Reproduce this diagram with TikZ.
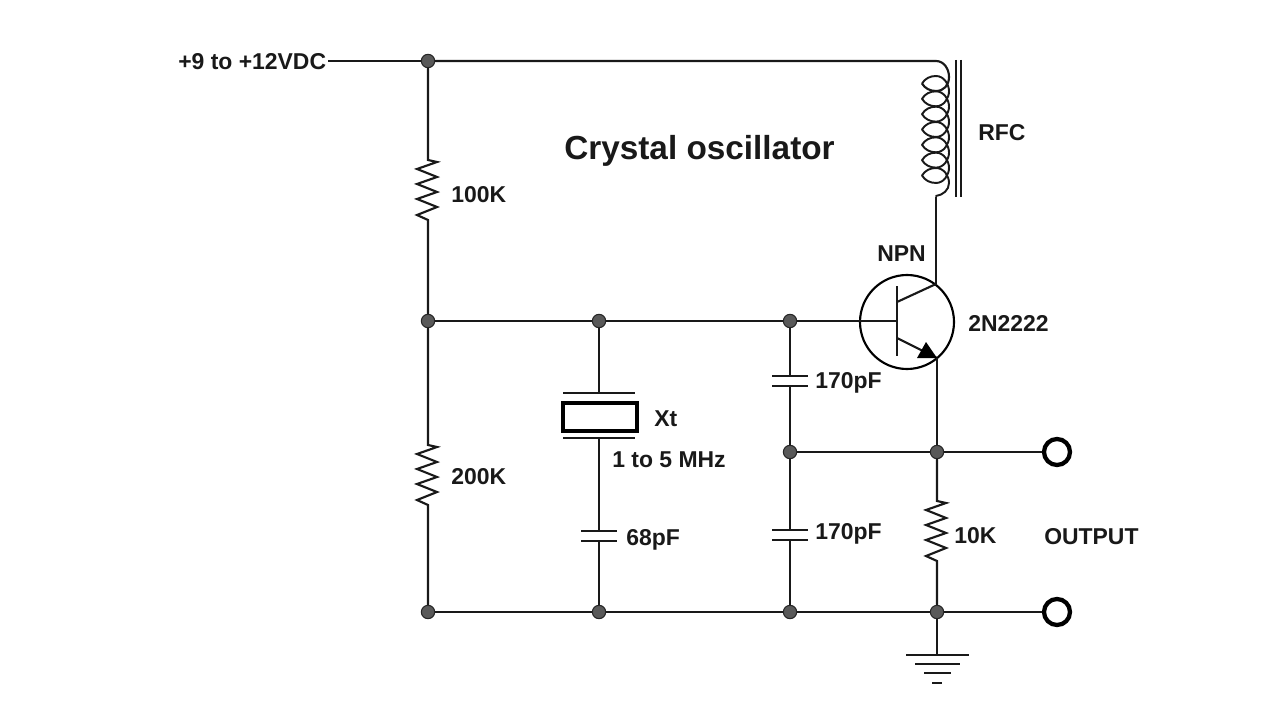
\documentclass[tikz,border=0pt]{standalone}
\usepackage{fontspec}
\setmainfont{Liberation Sans}
\tikzset{
  wire/.style={line width=1.6pt,draw=black!90,line join=miter},
  coil/.style={line width=1.45pt,draw=black!90,line cap=round},
  dotj/.style={circle,fill=black!65,draw=black!85,line width=0.8pt,minimum size=10pt,inner sep=0pt},
  term/.style={circle,fill=white,draw=black,line width=3.2pt,minimum size=19.5pt,inner sep=0pt},
  lab/.style={anchor=base west,inner sep=0pt,font=\fontsize{17.2}{20}\selectfont\bfseries,text=black!90},
  ttl/.style={anchor=base west,inner sep=0pt,font=\fontsize{25}{30}\selectfont\bfseries,text=black!90},
}
\newcommand{\zigzag}{-- ++(9,2) -- ++(-20,7) -- ++(20,8) -- ++(-20,7) -- ++(20,8) -- ++(-20,7) -- ++(20,8) -- ++(-20,8) -- ++(11,5)}
\begin{document}
\begin{tikzpicture}[x=0.75pt,y=-0.75pt]
\useasboundingbox (0,0) rectangle (1280,720);
% junctions
\node[dotj] (a1) at (428,61) {};
\node[dotj] (b1) at (428,321) {};
\node[dotj] (b2) at (599,321) {};
\node[dotj] (b3) at (790,321) {};
\node[dotj] (m1) at (790,452) {};
\node[dotj] (m2) at (937,452) {};
\node[dotj] (g1) at (428,612) {};
\node[dotj] (g2) at (599,612) {};
\node[dotj] (g3) at (790,612) {};
\node[dotj] (g4) at (937,612) {};
\node[term] (t1) at (1057,452) {};
\node[term] (t2) at (1057,612) {};
% labels
\node[lab] (vcc) at (178,70) {+9 to +12VDC};
\node[ttl] (title) at (564,160) {Crystal oscillator};
\node[lab] (rfc) at (978,141) {RFC};
\node[lab] (r100) at (451,203) {100K};
\node[lab] (npn) at (877,261) {NPN};
\node[lab] (qn) at (968,331) {2N2222};
\node[lab] (xt) at (654,426) {Xt};
\node[lab] (freq) at (612,467) {1 to 5 MHz};
\node[lab] (c68) at (626,545) {68pF};
\node[lab] (c170a) at (815,388) {170pF};
\node[lab] (c170b) at (815,539) {170pF};
\node[lab] (r200) at (451,484) {200K};
\node[lab] (r10) at (954,543) {10K};
\node[lab] (out) at (1044,544) {OUTPUT};
% top rail
\coordinate (vccend) at (328,61);
\coordinate (ctop) at (936,61);
\coordinate (cbot) at (936,197);
\draw[wire] (vccend) -- (a1);
\draw[wire] (a1) -- (ctop) .. controls (944,61) and (949,69) .. (949,77)
   .. controls (949,85) and (944,91) .. (936,91)
   .. controls (930,91) and (925,88.5) .. (922,83.5);
% coil
\foreach \y in {83.5,98.83,114.17,129.5,144.83,160.17}{
  \draw[coil] (922,\y) .. controls (925,\y-5) and (930,\y-7.5) .. (936,\y-7.5)
     .. controls (944,\y-7.5) and (949,\y+1) .. (949,\y+7.67)
     .. controls (949,\y+14.5) and (944,\y+22.8) .. (936,\y+22.8)
     .. controls (930,\y+22.8) and (925,\y+20.3) .. (922,\y+15.33);
}
\draw[coil] (922,175.5) .. controls (925,170.5) and (930,168) .. (936,168)
     .. controls (944,168) and (949,176) .. (949,183)
     .. controls (949,190) and (943,195) .. (936,196);
\draw[wire] (cbot) -- (936,284);
\draw[wire] (956,60) -- (956,197);
\draw[wire] (961,60) -- (961,197);
% transistor
\node[circle,draw=black,line width=1.6pt,minimum size=70.5pt,inner sep=0pt] (q) at (907,322) {};
\coordinate (bt) at (897,286);
\coordinate (bb) at (897,356);
\coordinate (bm) at (897,321);
\coordinate (cin) at (897,302);
\coordinate (cout) at (936,284);
\coordinate (ein) at (897,338);
\coordinate (eout) at (937,358);
\draw[wire] (bt) -- (bb);
\draw[wire] (b3) -- (bm);
\draw[wire] (cin) -- (cout);
\draw[wire] (ein) -- (eout);
\fill[black] (eout) -- (917,358) -- (926,342) -- cycle;
\draw[wire] (eout) -- (m2);
% left rail and resistors
\coordinate (r1t) at (428,160);
\coordinate (r2t) at (428,445);
\coordinate (r3t) at (937,501);
\draw[wire] (a1) -- (r1t) \zigzag -- (b1);
\draw[wire] (b1) -- (r2t) \zigzag -- (g1);
\draw[wire] (m2) -- (r3t) \zigzag -- (g4);
% base rail
\draw[wire] (b1) -- (b2);
\draw[wire] (b2) -- (b3);
% crystal
\coordinate (xa) at (599,393);
\coordinate (xb) at (599,438);
\node[draw=black,line width=3pt,fill=white,minimum width=55.5pt,minimum height=21pt,inner sep=0pt] (xtal) at (599.5,416.5) {};
\draw[wire] (b2) -- (xa);
\draw[wire] (563,393) -- (635,393);
\draw[wire] (563,438) -- (635,438);
\coordinate (c1a) at (599,531);
\coordinate (c1b) at (599,541);
\draw[wire] (xb) -- (c1a);
\draw[wire] (581,531) -- (617,531);
\draw[wire] (581,541) -- (617,541);
\draw[wire] (c1b) -- (g2);
% capacitors
\coordinate (c2a) at (790,376);
\coordinate (c2b) at (790,386);
\draw[wire] (b3) -- (c2a);
\draw[wire] (772,376) -- (808,376);
\draw[wire] (772,386) -- (808,386);
\draw[wire] (c2b) -- (m1);
\coordinate (c3a) at (790,530);
\coordinate (c3b) at (790,540);
\draw[wire] (m1) -- (c3a);
\draw[wire] (772,530) -- (808,530);
\draw[wire] (772,540) -- (808,540);
\draw[wire] (c3b) -- (g3);
% output and ground rails
\draw[wire] (m1) -- (m2);
\draw[wire] (m2) -- (t1);
\draw[wire] (g1) -- (g2);
\draw[wire] (g2) -- (g3);
\draw[wire] (g3) -- (g4);
\draw[wire] (g4) -- (t2);
\coordinate (gnd) at (937,655);
\draw[wire] (g4) -- (gnd);
\draw[wire] (906,655) -- (969,655);
\draw[wire] (915,664) -- (960,664);
\draw[wire] (924,673) -- (951,673);
\draw[wire] (932,683) -- (942,683);
\end{tikzpicture}
\end{document}
